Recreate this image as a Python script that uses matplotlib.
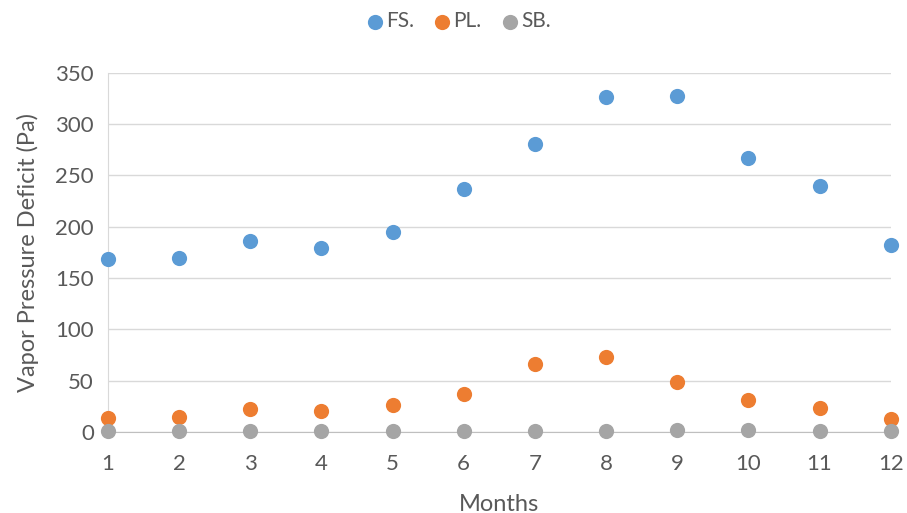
import matplotlib.pyplot as plt

plt.rcParams['font.family'] = ['Lato', 'DejaVu Sans']

months = [1, 2, 3, 4, 5, 6, 7, 8, 9, 10, 11, 12]
fs = [169, 170, 186, 179, 195, 237, 281, 326, 327, 267, 240, 182]
pl = [14, 14.5, 22, 20, 26, 37, 66, 73, 49, 31, 23, 13]
sb = [1, 1, 1, 1, 1, 1, 0.8, 1.2, 1.8, 1.5, 1.2, 1.3]

txt = '#595959'
fig = plt.figure(figsize=(9.07, 5.13), dpi=100)
ax = fig.add_axes([0.119, 0.158, 0.863, 0.7])

ax.scatter(months, fs, s=120, color='#5B9BD5', label='FS.', zorder=3, linewidths=0)
ax.scatter(months, pl, s=120, color='#ED7D31', label='PL.', zorder=3, linewidths=0)
ax.scatter(months, sb, s=120, color='#A5A5A5', label='SB.', zorder=3, linewidths=0)

ax.set_xlim(1, 12)
ax.set_ylim(0, 350)
ax.set_xticks(months)
ax.set_yticks(range(0, 351, 50))
ax.yaxis.grid(True, color='#D9D9D9', linewidth=1)
ax.set_axisbelow(True)
for s in ['top', 'right']:
    ax.spines[s].set_visible(False)
ax.spines['left'].set_color('#D9D9D9')
ax.spines['bottom'].set_color('#BFBFBF')
ax.tick_params(length=0, labelsize=16, colors=txt)
ax.tick_params(axis='x', pad=16)
ax.tick_params(axis='y', pad=10)
ax.set_xlabel('Months', fontsize=17, color=txt, labelpad=14)
ax.set_ylabel('Vapor Pressure Deficit (Pa)', fontsize=17, color=txt, labelpad=12)
for t in ax.get_xticklabels() + ax.get_yticklabels():
    t.set_clip_on(False)

fig.legend(loc='upper center', bbox_to_anchor=(0.505, 1.015), ncol=3, frameon=False,
           fontsize=15, labelcolor=txt, handletextpad=0.1, columnspacing=0.9,
           handlelength=0.9, markerscale=1.0)
for c in ax.collections:
    c.set_clip_on(False)

fig.savefig('out.png', dpi=100)
